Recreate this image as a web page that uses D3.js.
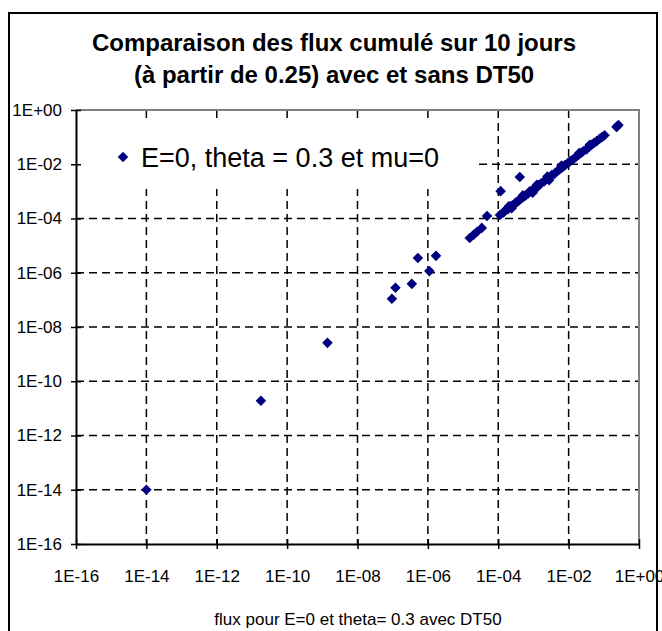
<!DOCTYPE html>
<html>
<head>
<meta charset="utf-8">
<script src="https://cdn.jsdelivr.net/npm/d3@7"></script>
<style>
  body { margin: 0; background: #fff; }
  text { font-family: "Liberation Sans", Arial, sans-serif; }
</style>
</head>
<body>
<svg width="662" height="631"></svg>
<script>
const width = 662;
const height = 631;

const titleLines = ["Comparaison des flux cumulé sur 10 jours", "(à partir de 0.25) avec et sans DT50"];
const xLabel = "flux pour E=0 et theta= 0.3 avec DT50";
const seriesName = "E=0, theta = 0.3 et mu=0";
const tickValues = [1e-16, 1e-14, 1e-12, 1e-10, 1e-8, 1e-6, 1e-4, 1e-2, 1];

// flux avec DT50 (x) / flux sans DT50 (y)
const fluxAvec = [
  1.0e-14, 1.8e-11, 1.4e-9, 9.5e-8, 1.2e-7, 3.5e-7, 5.2e-7, 1.1e-6, 1.7e-6,
  1.55e-5, 2.0e-5, 2.45e-5, 3.4e-5, 4.8e-5, 1.17e-4, 4.1e-4, 1.12e-4,
  1.41e-4, 1.58e-4, 1.9e-4, 2.24e-4, 2.5e-4, 2.8e-4, 3.2e-4, 3.55e-4, 4.0e-4,
  4.5e-4, 5.0e-4, 6.0e-4, 7.1e-4, 7.9e-4, 8.9e-4, 1.05e-3, 1.26e-3, 1.4e-3,
  1.66e-3, 2.0e-3, 2.4e-3, 2.8e-3, 3.3e-3, 4.0e-3, 4.8e-3, 5.6e-3, 6.6e-3,
  7.9e-3, 9.5e-3, 1.12e-2, 1.32e-2, 1.58e-2, 1.9e-2, 2.24e-2, 2.6e-2, 3.2e-2,
  3.8e-2, 4.5e-2, 5.2e-2, 6.3e-2, 7.6e-2, 8.9e-2, 1.05e-1, 2.4e-1, 2.6e-1,
  2.0e-4, 2.4e-4, 5.0e-4, 9.5e-4, 1.26e-3, 2.8e-3, 2.5e-3, 6.3e-3, 2.0e-2,
  4.0e-2, 2.3e-1
];
const fluxSans = [
  1.0e-14, 1.9e-11, 2.6e-9, 1.1e-7, 2.8e-7, 3.9e-7, 3.5e-6, 1.15e-6, 4.2e-6,
  1.9e-5, 2.5e-5, 3.2e-5, 4.5e-5, 1.23e-4, 1.02e-3, 3.4e-3, 1.35e-4,
  1.66e-4, 2.0e-4, 2.2e-4, 2.8e-4, 3.0e-4, 3.2e-4, 4.0e-4, 4.2e-4, 4.8e-4,
  5.6e-4, 6.0e-4, 7.1e-4, 8.3e-4, 1.0e-3, 1.05e-3, 1.26e-3, 1.4e-3, 1.66e-3,
  2.0e-3, 2.3e-3, 2.8e-3, 3.2e-3, 4.0e-3, 4.5e-3, 5.6e-3, 6.6e-3, 7.6e-3,
  9.3e-3, 1.1e-2, 1.32e-2, 1.5e-2, 1.8e-2, 2.2e-2, 2.6e-2, 3.0e-2, 3.5e-2,
  4.4e-2, 5.2e-2, 6.0e-2, 7.1e-2, 8.7e-2, 1.0e-1, 1.17e-1, 2.5e-1, 2.8e-1,
  2.8e-4, 2.4e-4, 7.1e-4, 8.9e-4, 1.74e-3, 2.6e-3, 3.5e-3, 8.9e-3, 2.6e-2,
  5.2e-2, 2.35e-1
];

const plot = { left: 76, right: 639, top: 110, bottom: 544 };

const xScale = d3.scaleLog()
  .domain([1e-16, 1])
  .range([plot.left, plot.right]);

const yScale = d3.scaleLog()
  .domain([1e-16, 1])
  .range([plot.bottom, plot.top]);

const fmt = d => {
  const e = Math.round(Math.log10(d));
  return "1E" + (e < 0 ? "-" : "+") + String(Math.abs(e)).padStart(2, "0");
};

const svg = d3.select("svg");

svg.append("rect")
    .attr("width", width)
    .attr("height", height)
    .attr("fill", "#fff");

// chart border
svg.append("rect")
    .attr("x", 9)
    .attr("y", 13)
    .attr("width", 648)
    .attr("height", 640)
    .attr("fill", "none")
    .attr("stroke", "#000")
    .attr("stroke-width", 2);

// title
svg.append("text")
    .attr("x", 334)
    .attr("y", 51)
    .style("text-anchor", "middle")
    .style("font-size", "24px")
    .style("font-weight", "bold")
  .selectAll("tspan")
  .data(titleLines)
  .enter()
  .append("tspan")
    .attr("x", 334)
    .attr("dy", (d, i) => i === 0 ? 0 : 32)
    .text(d => d);

// grid
const grid = svg.append("g")
    .attr("stroke", "#000")
    .attr("stroke-width", 1.5)
    .attr("stroke-dasharray", "8,5");

grid.selectAll(".vgrid")
  .data(tickValues.slice(1, -1))
  .enter()
  .append("line")
    .attr("x1", d => xScale(d))
    .attr("x2", d => xScale(d))
    .attr("y1", plot.top)
    .attr("y2", plot.bottom);

grid.selectAll(".hgrid")
  .data(tickValues.slice(1, -1))
  .enter()
  .append("line")
    .attr("x1", plot.left)
    .attr("x2", plot.right)
    .attr("y1", d => yScale(d))
    .attr("y2", d => yScale(d));

// plot frame (top / right)
svg.append("path")
    .attr("d", `M${plot.left},${plot.top}H${plot.right}V${plot.bottom}`)
    .attr("fill", "none")
    .attr("stroke", "#808080")
    .attr("stroke-width", 2);

// legend box hides the grid
svg.append("rect")
    .attr("x", plot.left + 1)
    .attr("y", 121)
    .attr("width", 400)
    .attr("height", 68)
    .attr("fill", "#fff");

// axes
const xAxis = d3.axisBottom(xScale)
  .tickValues(tickValues)
  .tickFormat(fmt)
  .tickSize(5)
  .tickSizeOuter(0)
  .tickPadding(21);

const yAxis = d3.axisLeft(yScale)
  .tickValues(tickValues)
  .tickFormat(fmt)
  .tickSize(5)
  .tickSizeOuter(0)
  .tickPadding(9);

const gx = svg.append("g")
    .attr("transform", `translate(0, ${plot.bottom})`)
    .call(xAxis);

const gy = svg.append("g")
    .attr("transform", `translate(${plot.left}, 0)`)
    .call(yAxis);

gx.selectAll(".tick line").attr("y1", -5);
gy.selectAll(".tick line").attr("x1", 5);

[gx, gy].forEach(g => {
  g.select(".domain").attr("stroke", "#000").attr("stroke-width", 2);
  g.selectAll(".tick line").attr("stroke", "#000").attr("stroke-width", 1.5);
  g.selectAll(".tick text")
    .attr("fill", "#000")
    .style("font-size", "17px")
    .style("font-family", "'Liberation Sans', Arial, sans-serif");
});

// axis label
svg.append("text")
    .attr("x", 358)
    .attr("y", 625)
    .style("text-anchor", "middle")
    .style("font-size", "17px")
    .text(xLabel);

// points
const diamond = d3.symbol().type(d3.symbolSquare).size(56);

svg.append("g")
  .selectAll("path")
  .data(fluxAvec.map((x, i) => ({ x: x, y: fluxSans[i] })))
  .enter()
  .append("path")
    .attr("d", diamond)
    .attr("transform", d => `translate(${xScale(d.x)}, ${yScale(d.y)}) rotate(45)`)
    .attr("fill", "#000080");

// legend
svg.append("path")
    .attr("d", diamond)
    .attr("transform", "translate(123, 157) rotate(45)")
    .attr("fill", "#000080");

svg.append("text")
    .attr("x", 141)
    .attr("y", 167)
    .style("font-size", "27px")
    .text(seriesName);
</script>
</body>
</html>
